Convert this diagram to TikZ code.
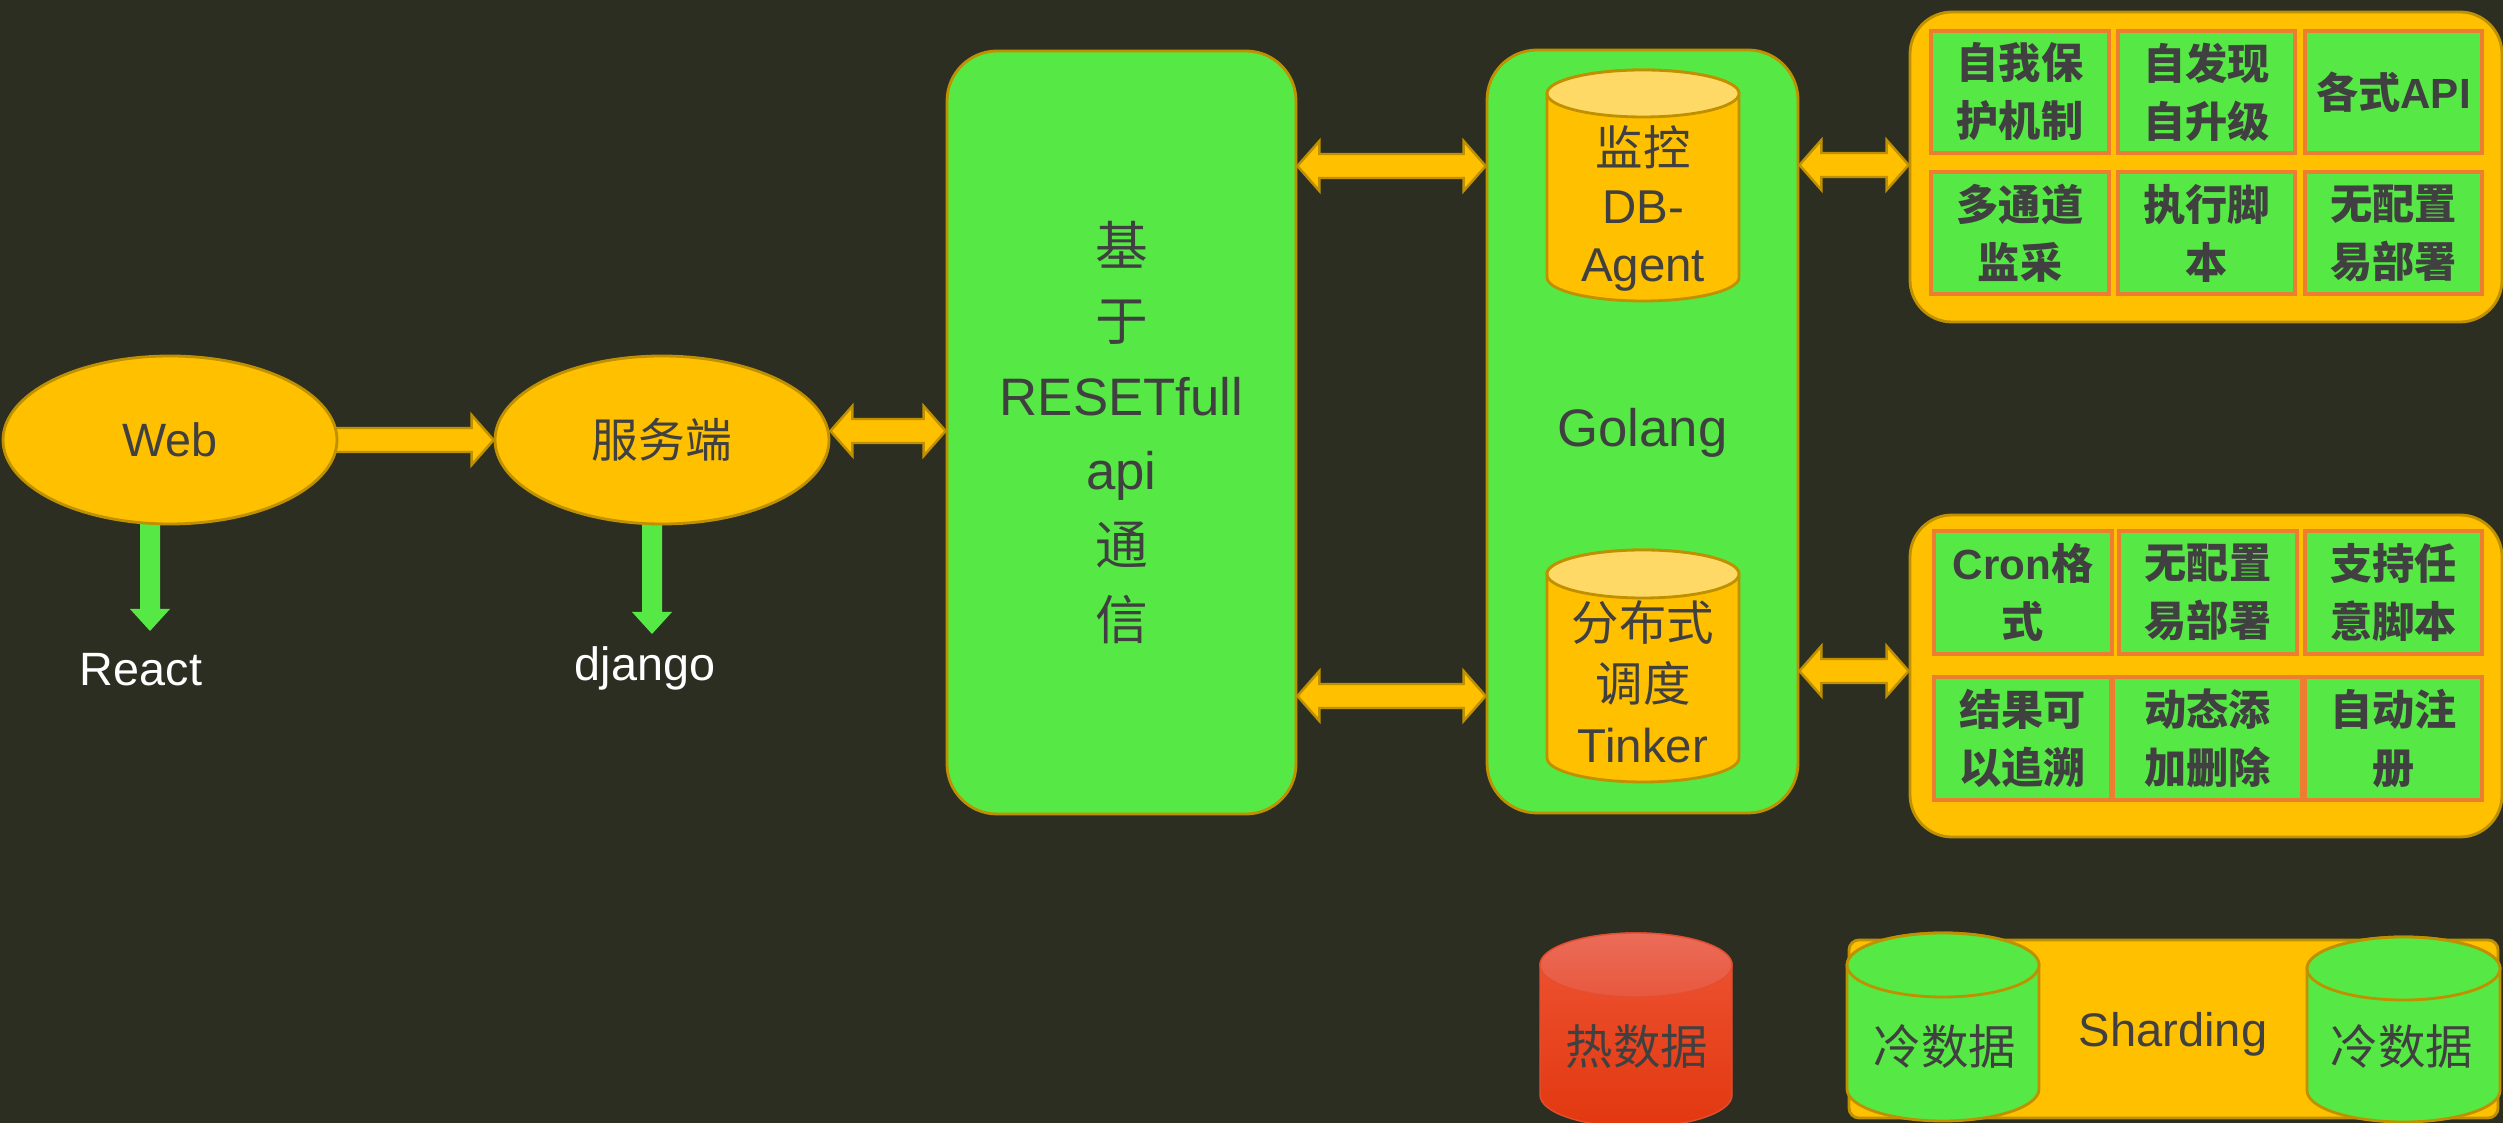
\documentclass[tikz,border=0pt]{standalone}
\usepackage{fontspec}
\setmainfont{Liberation Sans}
\newfontfamily\cjk{Noto Sans CJK SC}
\usetikzlibrary{shapes.geometric,calc}

\definecolor{bgc}{RGB}{44,46,34}
\definecolor{grn}{RGB}{86,232,69}
\definecolor{ylw}{RGB}{255,192,0}
\definecolor{gold}{RGB}{191,144,0}
\definecolor{capy}{RGB}{255,217,102}
\definecolor{cellb}{RGB}{237,125,49}
\definecolor{ink}{RGB}{64,64,64}
\definecolor{hotcapA}{RGB}{235,108,88}
\definecolor{hotcapB}{RGB}{232,88,62}
\definecolor{hotA}{RGB}{238,84,52}
\definecolor{hotB}{RGB}{226,56,16}
\definecolor{hotline}{RGB}{228,78,48}

\newcommand\zh[1]{{\cjk #1}}

\pgfdeclarelayer{back}
\pgfdeclarelayer{under}
\pgfsetlayers{back,under,main}

% fat horizontal double arrow between two points on one level
\newcommand\dblarrow[2]{%
  \draw[fatarrow] let \p1=(#1), \p2=(#2) in
    (\x1,\y1) -- (\x1+2.2mm,\y1+2.5mm) -- (\x1+2.2mm,\y1+1.2mm)
    -- (\x2-2.2mm,\y1+1.2mm) -- (\x2-2.2mm,\y1+2.5mm) -- (\x2,\y1)
    -- (\x2-2.2mm,\y1-2.5mm) -- (\x2-2.2mm,\y1-1.2mm)
    -- (\x1+2.2mm,\y1-1.2mm) -- (\x1+2.2mm,\y1-2.5mm) -- cycle;}
% fat right arrow
\newcommand\rarrow[2]{%
  \draw[fatarrow] let \p1=(#1), \p2=(#2) in
    (\x1,\y1+1.2mm) -- (\x2-2.2mm,\y1+1.2mm) -- (\x2-2.2mm,\y1+2.5mm)
    -- (\x2,\y1) -- (\x2-2.2mm,\y1-2.5mm) -- (\x2-2.2mm,\y1-1.2mm)
    -- (\x1,\y1-1.2mm) -- cycle;}
% fat down arrow
\newcommand\darrow[2]{%
  \fill[grn] let \p1=(#1), \p2=(#2) in
    (\x1-1mm,\y1) -- (\x1+1mm,\y1) -- (\x1+1mm,\y2+2.2mm) -- (\x1+2mm,\y2+2.2mm)
    -- (\x1,\y2) -- (\x1-2mm,\y2+2.2mm) -- (\x1-1mm,\y2+2.2mm) -- cycle;}
% cylinder: centre x, top cap centre y, bottom cap centre y, rx, ry, body style, cap style
\newcommand\drawcyl[7]{%
  \path[#6] (#1-#4,#2) -- (#1-#4,#3)
     arc[start angle=180,end angle=360,x radius=#4*0.1mm,y radius=#5*0.1mm]
     -- (#1+#4,#2)
     arc[start angle=0,end angle=180,x radius=#4*0.1mm,y radius=#5*0.1mm] -- cycle;
  \path[#7] (#1,#2) ellipse[x radius=#4*0.1mm,y radius=#5*0.1mm];}
% grid cell from corner to corner
\newcommand\cellat[6]{%
  \node[cell, minimum width={(#4-#2)*0.1mm}, minimum height={(#5-#3)*0.1mm}]
    (#1) at ({(#2+#4)/2},{(#3+#5)/2}) {#6};}

\tikzset{
  oval/.style={ellipse, draw=gold, line width=0.8pt, fill=ylw, inner sep=0pt,
    minimum width=33.4mm, minimum height=16.8mm, text=ink,
    font=\fontsize{13.3}{16}\selectfont},
  panel/.style={rectangle, rounded corners=5mm, draw=gold, line width=0.8pt,
    fill=grn, text=ink, align=center, inner sep=0pt},
  tray/.style={rectangle, rounded corners=4.2mm, draw=gold, line width=0.8pt,
    fill=ylw, inner sep=0pt},
  cell/.style={rectangle, draw=cellb, line width=0.9pt, fill=grn, text=ink,
    align=center, inner sep=0pt, font=\bfseries\fontsize{12}{16.5}\selectfont},
  fatarrow/.style={fill=ylw, draw=gold, line width=0.7pt, line join=miter},
  whitelabel/.style={text=white, inner sep=0pt, font=\fontsize{13.3}{16}\selectfont},
  cyltext/.style={text=ink, align=center, inner sep=0pt,
    font=\fontsize{13.5}{16.5}\selectfont},
  ycyl/.style={fill=ylw, draw=gold, line width=0.8pt},
  ycap/.style={fill=capy, draw=gold, line width=0.8pt},
  gcyl/.style={fill=grn, draw=gold, line width=0.8pt},
}

\begin{document}
\begin{tikzpicture}[x=0.1mm, y=-0.1mm]
\begin{pgfonlayer}{back}
  \fill[bgc] (0,0) rectangle (2503,1123);
\end{pgfonlayer}
\useasboundingbox (0,0) rectangle (2503,1123);

% front end and server
\node[oval] (web) at (170,440) {Web};
\node[oval] (srv) at (662,440) {\zh{服务端}};
\node[whitelabel] (react) at (141,670) {React};
\node[whitelabel] (django) at (645,668) {django};
\coordinate (reacttip) at (150,631);
\coordinate (djangotip) at (652,634);

% communication and agent panels
\node[panel, minimum width=34.9mm, minimum height=76.3mm,
      font=\fontsize{15}{21.3}\selectfont] (reset) at (1121.5,432.5)
  {\zh{基}\\\zh{于}\\RESETfull\\api\\\zh{通}\\\zh{信}};
\node[panel, minimum width=31.1mm, minimum height=76.3mm,
      font=\fontsize{15}{21.3}\selectfont] (golang) at (1642.5,431.5)
  {\rule{0pt}{4mm}Golang};

% cylinders inside the Golang panel
\drawcyl{1643}{93.5}{277.5}{96}{23.5}{ycyl}{ycap}
\node[cyltext] (dbagent) at (1643,208) {\zh{监控}\\DB-\\Agent};
\drawcyl{1643}{574}{758}{96}{24}{ycyl}{ycap}
\node[cyltext, font=\fontsize{13.5}{17.3}\selectfont] (tinker) at (1643,682) {\zh{分布式}\\\zh{调度}\\Tinker};

% feature grids
\node[tray, minimum width=59.2mm, minimum height=31mm] (grid1) at (2206,167) {};
\node[tray, minimum width=59.2mm, minimum height=32.2mm] (grid2) at (2206,676) {};

\cellat{a1}{1931}{31}{2109}{153}{\zh{自我保}\\\zh{护机制}}
\cellat{a2}{2118}{31}{2295}{153}{\zh{自发现}\\\zh{自升级}}
\cellat{a3}{2305}{31}{2482}{153}{\zh{各式}API}
\cellat{a4}{1931}{172}{2109}{294}{\zh{多通道}\\\zh{监采}}
\cellat{a5}{2118}{172}{2295}{294}{\zh{执行脚}\\\zh{本}}
\cellat{a6}{2305}{172}{2482}{294}{\zh{无配置}\\\zh{易部署}}

\cellat{b1}{1934}{531}{2112}{654}{Cron\zh{格}\\\zh{式}}
\cellat{b2}{2119}{531}{2297}{654}{\zh{无配置}\\\zh{易部署}}
\cellat{b3}{2305}{531}{2482}{654}{\zh{支持任}\\\zh{意脚本}}
\cellat{b4}{1934}{677}{2111}{800}{\zh{结果可}\\\zh{以追溯}}
\cellat{b5}{2113}{677}{2302}{800}{\zh{动态添}\\\zh{加删除}}
\cellat{b6}{2305}{677}{2482}{800}{\zh{自动注}\\\zh{册}}

% storage
\drawcyl{1636}{965}{1095}{96}{32}{top color=hotA, bottom color=hotB, draw=hotline, line width=0.4pt}{top color=hotcapA, bottom color=hotcapB, draw=hotline, line width=0.4pt}
\node[cyltext] (hot) at (1637,1047) {\zh{热数据}};

\node[tray, rounded corners=1mm, minimum width=64.9mm, minimum height=17.8mm,
      inner sep=0pt] (shard) at (2173.5,1029) {};
\node[cyltext, font=\fontsize{13.4}{16}\selectfont] (shardtext) at (2173,1034) {Sharding};
\drawcyl{1943}{965}{1089}{96}{32}{gcyl}{gcyl}
\node[cyltext] (coldA) at (1945,1047) {\zh{冷数据}};
\drawcyl{2403.5}{968.5}{1090.5}{96.5}{31.5}{gcyl}{gcyl}
\node[cyltext] (coldB) at (2402,1047) {\zh{冷数据}};

% connectors
\path (0,431) coordinate (lvA) (0,166) coordinate (lvB) (0,696) coordinate (lvC)
      (0,165) coordinate (lvD) (0,671) coordinate (lvE);
\begin{pgfonlayer}{under}
  \rarrow{web.center}{srv.west}
  \darrow{web.center -| reacttip}{reacttip}
  \darrow{srv.center -| djangotip}{djangotip}
\end{pgfonlayer}
\dblarrow{srv.east |- lvA}{reset.west |- lvA}
\dblarrow{reset.east |- lvB}{golang.west |- lvB}
\dblarrow{reset.east |- lvC}{golang.west |- lvC}
\dblarrow{golang.east |- lvD}{grid1.west |- lvD}
\dblarrow{golang.east |- lvE}{grid2.west |- lvE}
\end{tikzpicture}
\end{document}
